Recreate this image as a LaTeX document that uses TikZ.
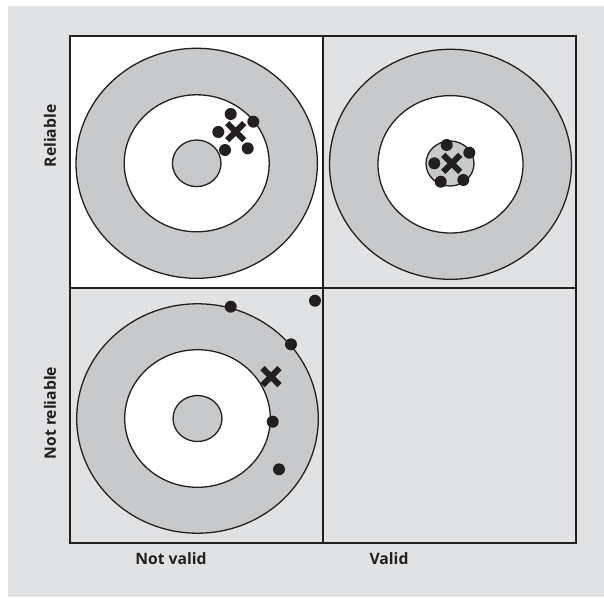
\documentclass[tikz,border=0pt]{standalone}
\usepackage{fontspec}
\setsansfont{Open Sans}
\usetikzlibrary{positioning, shapes.misc}
\definecolor{ink}{RGB}{35,31,32}
\definecolor{panelgray}{RGB}{225,226,228}
\definecolor{ringgray}{RGB}{200,201,203}

\begin{document}
\begin{tikzpicture}[x=1pt, y=-1pt,
		Dot/.style={circle, fill=ink, inner sep=0pt, minimum size=12pt},
		Mean/.style={cross out, draw=ink, line width=6pt, inner sep=0pt, minimum size=11pt},
		Ring/.style={draw=ink, line width=1.3pt},
		Grid/.style={draw=ink, line width=1.1pt},
		Label/.style={font=\sffamily\bfseries\fontsize{15.7}{18}\selectfont, text=ink}
	]
	\useasboundingbox (0,0) rectangle (604,597);
	\fill[panelgray] (8,6) rectangle (604,597);
	
	% cells
	\coordinate (nw) at (70,36);
	\coordinate (mid) at (323,288);
	\coordinate (se) at (576,543);
	\fill[white] (nw) rectangle (mid);
	\draw[Grid] (nw) rectangle (se);
	\draw[Grid] (323,36) -- (323,543);
	\draw[Grid] (70,288) -- (576,288);
	\draw[ink, line width=2pt] (nw) rectangle (mid);
	
	% reliable, not valid
	\coordinate (t1) at (196.7,163.3);
	\draw[Ring, fill=ringgray] (t1) ellipse [x radius=120.7, y radius=115];
	\draw[Ring, fill=white] (t1) ellipse [x radius=72.5, y radius=68.5];
	\draw[Ring, fill=ringgray] (t1) ellipse [x radius=24.3, y radius=23.3];
	\node[Dot] (a1) at (230.7,114) {};
	\node[Dot] (a2) at (253.3,121.7) {};
	\node[Dot] (a3) at (218.3,132) {};
	\node[Dot] (a4) at (225,150) {};
	\node[Dot] (a5) at (247.7,148.3) {};
	\node[Mean] (m1) at (235.7,131.7) {};
	
	% reliable, valid
	\coordinate (t2) at (450.5,164.3);
	\draw[Ring, fill=ringgray] (t2) ellipse [x radius=121, y radius=115];
	\draw[Ring, fill=white] (t2) ellipse [x radius=72.5, y radius=68.7];
	\draw[Ring, fill=ringgray] (450,163.5) ellipse [x radius=24, y radius=22.5];
	\node[Dot] (b1) at (446.7,145) {};
	\node[Dot] (b2) at (469.3,152.7) {};
	\node[Dot] (b3) at (434.3,163.3) {};
	\node[Dot] (b4) at (440.7,181.7) {};
	\node[Dot] (b5) at (463.3,180) {};
	\node[Mean] (m2) at (451.7,163.3) {};
	
	% not reliable, not valid
	\coordinate (t3) at (197.5,418.5);
	\draw[Ring, fill=ringgray] (t3) ellipse [x radius=120.8, y radius=114.7];
	\draw[Ring, fill=white] (t3) ellipse [x radius=72.8, y radius=68.8];
	\draw[Ring, fill=ringgray] (t3) ellipse [x radius=24.5, y radius=23];
	\node[Dot] (c1) at (230.7,306.7) {};
	\node[Dot] (c2) at (315,300.7) {};
	\node[Dot] (c3) at (291,344.3) {};
	\node[Dot] (c4) at (272.7,421.7) {};
	\node[Dot] (c5) at (279,469.3) {};
	\node[Mean] (m3) at (271,376.7) {};
	
	% axis labels
	\node[Label, rotate=90] (rel) at (50,136) {Reliable};
	\node[Label, rotate=90] (notrel) at (50,413) {Not reliable};
	\node[Label] (notval) at (171,559) {Not valid};
	\node[Label] (val) at (389,559) {Valid};
\end{tikzpicture}
\end{document}
